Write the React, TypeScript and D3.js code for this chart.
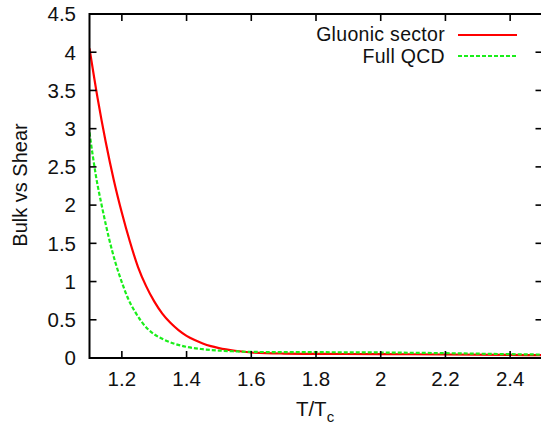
import React from "react";
import * as d3 from "d3";

const redT = [1.100, 1.125, 1.150, 1.175, 1.200, 1.225, 1.250, 1.275, 1.300, 1.325, 1.350, 1.375, 1.400, 1.425, 1.450, 1.475, 1.500, 1.550, 1.600, 1.700, 1.800, 2.000, 2.200, 2.400, 2.500];
const redV = [4.05, 3.40, 2.83, 2.33, 1.90, 1.52, 1.19, 0.94, 0.74, 0.58, 0.46, 0.365, 0.29, 0.235, 0.19, 0.155, 0.13, 0.095, 0.072, 0.058, 0.054, 0.051, 0.046, 0.040, 0.037];

const greenT = [1.10, 1.11, 1.12, 1.14, 1.16, 1.18, 1.20, 1.22, 1.24, 1.26, 1.28, 1.30, 1.33, 1.36, 1.40, 1.45, 1.50, 1.55, 1.60, 1.70, 1.80, 2.00, 2.20, 2.40, 2.50];
const greenV = [2.95, 2.65, 2.38, 1.95, 1.57, 1.25, 0.99, 0.77, 0.61, 0.48, 0.38, 0.31, 0.24, 0.19, 0.145, 0.115, 0.097, 0.087, 0.080, 0.077, 0.076, 0.072, 0.063, 0.050, 0.045];

const xTicks = [1.2, 1.4, 1.6, 1.8, 2, 2.2, 2.4];
const yTicks = [0, 0.5, 1, 1.5, 2, 2.5, 3, 3.5, 4, 4.5];
const seriesNames = ["Gluonic sector", "Full QCD"];

const W = 541, H = 424;
const L = 89.5, R = 542.5, T = 14, B = 358;
const font = "'Liberation Sans', Arial, Helvetica, sans-serif";

export default function App() {
  const x = d3.scaleLinear().domain([1.1, 2.5]).range([L, R]);
  const y = d3.scaleLinear().domain([0, 4.5]).range([B, T]);
  const line = d3.line<[number, number]>().x(d => x(d[0])).y(d => y(d[1])).curve(d3.curveMonotoneX);
  const red = redT.map((t, i) => [t, redV[i]] as [number, number]);
  const green = greenT.map((t, i) => [t, greenV[i]] as [number, number]);
  const tl = 7;
  return (
    <svg width={W} height={H} style={{ position: "absolute", left: 0, top: 0, background: "#fff" }} fontFamily={font}>
      <defs>
        <clipPath id="plot"><rect x={L} y={T} width={R - L} height={B - T} /></clipPath>
      </defs>
      <g clipPath="url(#plot)">
        <path d={line(red) || ""} fill="none" stroke="#ff0000" strokeWidth={2.2} />
        <path d={line(green) || ""} fill="none" stroke="#1aee1a" strokeWidth={2.2} strokeDasharray="4,2" />
      </g>
      {xTicks.map(t => (
        <g key={"x" + t}>
          <line x1={x(t)} x2={x(t)} y1={B} y2={B - tl} stroke="#000" strokeWidth={1.6} />
          <line x1={x(t)} x2={x(t)} y1={T} y2={T + tl} stroke="#000" strokeWidth={1.6} />
          <text x={x(t)} y={386} textAnchor="middle" fontSize={20.5} fill="#111">{String(t)}</text>
        </g>
      ))}
      {yTicks.map(t => (
        <g key={"y" + t}>
          <line x1={L} x2={L + tl} y1={y(t)} y2={y(t)} stroke="#000" strokeWidth={1.6} />
          <line x1={R} x2={R - tl} y1={y(t)} y2={y(t)} stroke="#000" strokeWidth={1.6} />
          <text x={76} y={y(t)} dy="0.36em" textAnchor="end" fontSize={20.5} fill="#111">{String(t)}</text>
        </g>
      ))}
      <rect x={L} y={T} width={R - L} height={B - T} fill="none" stroke="#000" strokeWidth={2} />
      <text x={445} y={40.5} textAnchor="end" fontSize={19.5} letterSpacing={0.3} fill="#111">{seriesNames[0]}</text>
      <line x1={458} x2={517} y1={35} y2={35} stroke="#ff0000" strokeWidth={2.2} />
      <text x={445} y={62.5} textAnchor="end" fontSize={19.5} letterSpacing={0.3} fill="#111">{seriesNames[1]}</text>
      <line x1={458} x2={517} y1={56} y2={56} stroke="#1aee1a" strokeWidth={2.2} strokeDasharray="4,2" />
      <text transform={`translate(27,185) rotate(-90)`} textAnchor="middle" fontSize={20} fill="#111">Bulk vs Shear</text>
      <text x={315} y={416} textAnchor="middle" fontSize={20.5} fill="#111">
        T/T<tspan fontSize={15} dy={6}>c</tspan>
      </text>
    </svg>
  );
}
